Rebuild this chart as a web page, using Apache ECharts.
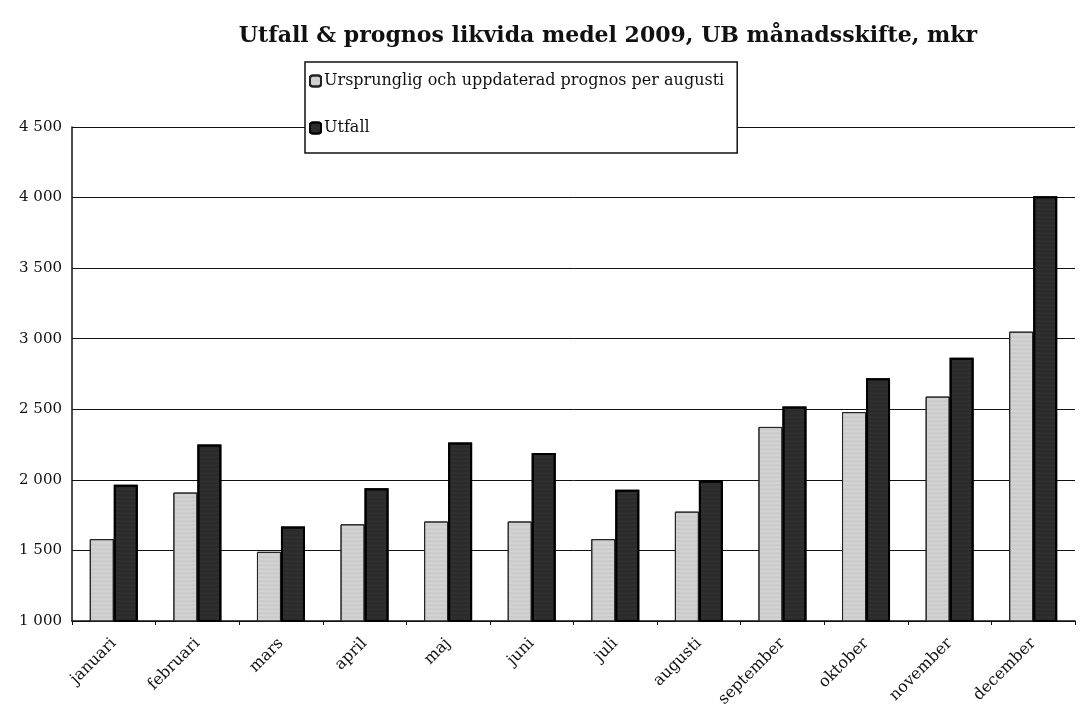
<!DOCTYPE html>
<html>
<head>
<meta charset="utf-8">
<script src="https://cdn.jsdelivr.net/npm/echarts@6/dist/echarts.min.js"></script>
<style>html,body{margin:0;padding:0;background:#fff}#c{width:1080px;height:712px}</style>
</head>
<body>
<div id="c"></div>
<script>
const titleText = 'Utfall & prognos likvida medel 2009, UB månadsskifte, mkr';
const months = ['januari','februari','mars','april','maj','juni','juli','augusti','september','oktober','november','december'];
const prognosName = 'Ursprunglig och uppdaterad prognos per augusti';
const utfallName = 'Utfall';
const prognos = [1580, 1910, 1490, 1685, 1705, 1705, 1580, 1775, 2375, 2480, 2590, 3050];
const utfall = [1965, 2250, 1670, 1940, 2265, 2190, 1930, 1995, 2520, 2720, 2865, 4010];
const yMin = 1000, yMax = 4500, yStep = 500;

const chart = echarts.init(document.getElementById('c'));
const serif = 'DejaVu Serif';
chart.setOption({
  backgroundColor: '#fff',
  animation: false,
  title: {
    text: titleText, left: 603, top: 20, textAlign: 'center',
    textStyle: {fontFamily: serif, fontWeight: 'bold', fontSize: 22, color: '#111'}
  },
  legend: {
    orient: 'vertical', left: 305, top: 62,
    padding: [11, 13, 17, 4], itemGap: 31,
    itemWidth: 11, itemHeight: 11,
    backgroundColor: '#fff', borderColor: '#111', borderWidth: 1.5,
    textStyle: {fontFamily: serif, fontSize: 16, color: '#111', padding: [0, 0, 0, -2]},
    data: [prognosName, utfallName]
  },
  grid: {left: 72, right: 5, top: 127, bottom: 91, containLabel: false},
  xAxis: {
    type: 'category', data: months,
    axisLine: {lineStyle: {color: '#111', width: 1.5}},
    axisTick: {show: true, length: 4, lineStyle: {color: '#111'}},
    axisLabel: {rotate: 45, margin: 20, fontFamily: serif, fontSize: 16, color: '#111'}
  },
  yAxis: {
    type: 'value', min: yMin, max: yMax, interval: yStep,
    axisLine: {show: true, lineStyle: {color: '#111', width: 1.5}},
    axisTick: {show: false},
    splitLine: {lineStyle: {color: '#111', width: 1}},
    axisLabel: {
      margin: 10, fontFamily: serif, fontSize: 15, color: '#111',
      formatter: v => String(v).replace(/\B(?=(\d{3})+(?!\d))/g, ' ')
    }
  },
  series: [
    {
      name: prognosName, type: 'bar', data: prognos, barWidth: 24, barGap: '0%',
      itemStyle: {color: '#d2d2d2', borderColor: '#222', borderWidth: 1,
        decal: {symbol: 'circle', symbolSize: 0.5, color: 'rgba(60,60,60,0.45)', dashArrayX: [1, 0], dashArrayY: [2, 2], rotation: 0}}
    },
    {
      name: utfallName, type: 'bar', data: utfall, barWidth: 24,
      itemStyle: {color: '#2b2b2b', borderColor: '#000', borderWidth: 2,
        decal: {symbol: 'circle', symbolSize: 0.5, color: 'rgba(200,200,200,0.35)', dashArrayX: [1, 0], dashArrayY: [2, 2], rotation: 0}}
    }
  ]
});
</script>
</body>
</html>
